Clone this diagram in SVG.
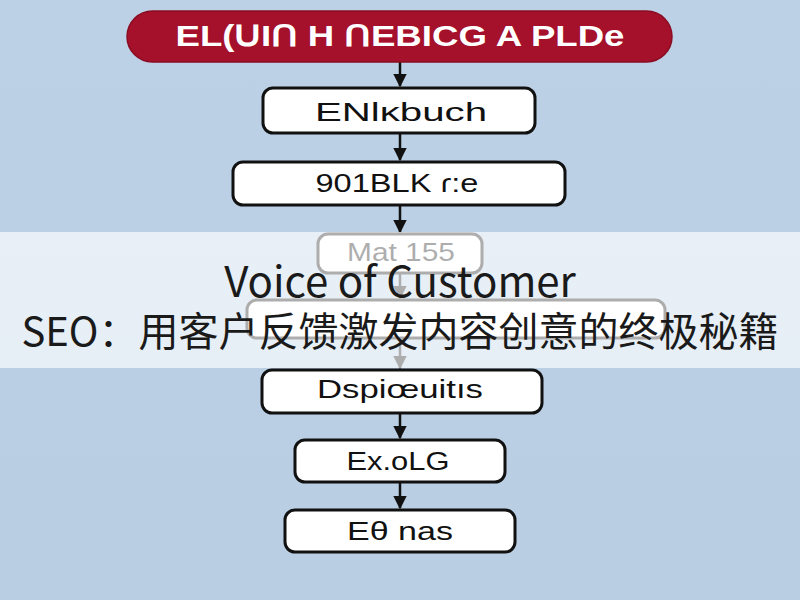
<svg xmlns="http://www.w3.org/2000/svg" width="800" height="600" viewBox="0 0 800 600">
<defs>
<linearGradient id="bg" x1="0" y1="0" x2="0" y2="1">
<stop offset="0" stop-color="#bcd1e6"/>
<stop offset="1" stop-color="#b9cee3"/>
</linearGradient>
<marker id="ah" viewBox="0 0 10 10" refX="9" refY="5" markerWidth="5.5" markerHeight="6" orient="auto" markerUnits="strokeWidth">
<path d="M0,0 L10,5 L0,10 z" fill="#111"/>
</marker>
<style>
.box{fill:#fff;stroke:#111;stroke-width:3}
.lbl{font-family:"Liberation Sans",Arial,sans-serif;font-size:25px;fill:#111;text-anchor:middle}
.con{stroke:#111;stroke-width:2.5;fill:none;marker-end:url(#ah)}
.ban{font-family:"Noto Sans CJK SC","Noto Sans",sans-serif;fill:#1a1a1a;text-anchor:middle}
.ttl{font-family:"Liberation Sans",Arial,sans-serif;font-size:29px;font-weight:bold;fill:#fff;text-anchor:middle}
</style>
</defs>
<rect width="800" height="600" fill="url(#bg)"/>
<g id="connectors">
<line class="con" x1="400" y1="62" x2="400" y2="86"/>
<line class="con" x1="400" y1="133" x2="400" y2="160"/>
<line class="con" x1="400" y1="205" x2="400" y2="232"/>
<line class="con" x1="400" y1="273" x2="400" y2="298"/>
<line class="con" x1="400" y1="338" x2="400" y2="368"/>
<line class="con" x1="400" y1="413" x2="400" y2="438"/>
<line class="con" x1="400" y1="482" x2="400" y2="508"/>
</g>
<g id="title">
<rect x="127" y="11" width="545" height="51" rx="25.5" fill="#a5102b" stroke="#8a0c22" stroke-width="1.5"/>
<text class="ttl" x="400" y="46" textLength="449" lengthAdjust="spacingAndGlyphs">EL(ᑌIՈ H ՈEBICG A PLDe</text>
</g>
<g id="n1"><rect class="box" x="263" y="88" width="272" height="45" rx="10"/><text class="lbl" x="401" y="121" textLength="172" lengthAdjust="spacingAndGlyphs">ENlκbuch</text></g>
<g id="n2"><rect class="box" x="233" y="162" width="332" height="43" rx="10"/><text class="lbl" x="397" y="192" textLength="163" lengthAdjust="spacingAndGlyphs">901BLK ɾ:e</text></g>
<g id="n3"><rect class="box" x="318" y="234" width="164" height="39" rx="10"/><text class="lbl" x="401" y="261" font-size="23" textLength="108" lengthAdjust="spacingAndGlyphs">Mat 155</text></g>
<g id="n4"><rect class="box" x="247" y="300" width="418" height="38" rx="10"/></g>
<g id="n5"><rect class="box" x="262" y="370" width="280" height="43" rx="10"/><text class="lbl" x="400" y="398" textLength="166" lengthAdjust="spacingAndGlyphs">Dspiœuitıs</text></g>
<g id="n6"><rect class="box" x="295" y="440" width="210" height="42" rx="10"/><text class="lbl" x="398" y="470" textLength="103" lengthAdjust="spacingAndGlyphs">Ex.oLG</text></g>
<g id="n7"><rect class="box" x="285" y="510" width="230" height="42" rx="10"/><text class="lbl" x="400" y="540" textLength="106" lengthAdjust="spacingAndGlyphs">Eθ nas</text></g>
<g id="banner">
<rect x="0" y="232" width="800" height="136" fill="#fff" fill-opacity="0.66"/>
<text class="ban" x="400" y="297" font-size="42">Voice of Customer</text>
<text class="ban" x="400" y="346" font-size="40">SEO：用客户反馈激发内容创意的终极秘籍</text>
</g>
</svg>
